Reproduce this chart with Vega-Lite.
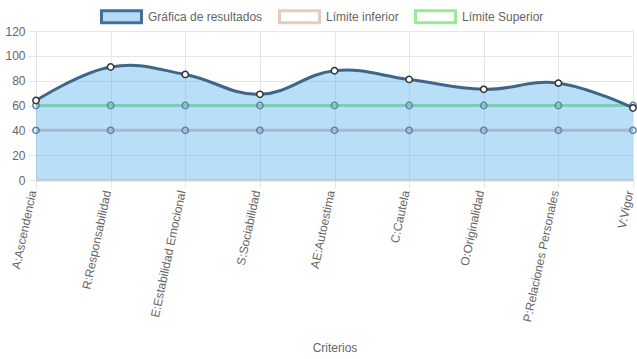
{
  "$schema": "https://vega.github.io/schema/vega-lite/v6.json",
  "width": 597,
  "height": 149,
  "autosize": "none",
  "padding": {"left": 36, "top": 31, "right": 4, "bottom": 179},
  "background": "#ffffff",
  "config": {
    "view": {"stroke": null},
    "font": "Liberation Sans",
    "axis": {
      "labelFont": "Liberation Sans",
      "labelFontSize": 12,
      "labelColor": "#666666",
      "titleFont": "Liberation Sans",
      "titleFontSize": 12,
      "titleColor": "#666666",
      "titleFontWeight": "normal",
      "gridColor": "#e6e6e6",
      "tickColor": "#e6e6e6",
      "domainColor": "#e0e0e0",
      "tickSize": 8
    }
  },
  "data": {
    "values": [
      {"criterio": "A:Ascendencia", "serie": "Gráfica de resultados", "valor": 64},
      {"criterio": "R:Responsabilidad", "serie": "Gráfica de resultados", "valor": 91},
      {"criterio": "E:Estabilidad Emocional", "serie": "Gráfica de resultados", "valor": 85},
      {"criterio": "S:Sociabilidad", "serie": "Gráfica de resultados", "valor": 69},
      {"criterio": "AE:Autoestima", "serie": "Gráfica de resultados", "valor": 88},
      {"criterio": "C:Cautela", "serie": "Gráfica de resultados", "valor": 81},
      {"criterio": "O:Originalidad", "serie": "Gráfica de resultados", "valor": 73},
      {"criterio": "P:Relaciones Personales", "serie": "Gráfica de resultados", "valor": 78},
      {"criterio": "V:Vigor", "serie": "Gráfica de resultados", "valor": 58},
      {"criterio": "A:Ascendencia", "serie": "Límite inferior", "valor": 40},
      {"criterio": "R:Responsabilidad", "serie": "Límite inferior", "valor": 40},
      {"criterio": "E:Estabilidad Emocional", "serie": "Límite inferior", "valor": 40},
      {"criterio": "S:Sociabilidad", "serie": "Límite inferior", "valor": 40},
      {"criterio": "AE:Autoestima", "serie": "Límite inferior", "valor": 40},
      {"criterio": "C:Cautela", "serie": "Límite inferior", "valor": 40},
      {"criterio": "O:Originalidad", "serie": "Límite inferior", "valor": 40},
      {"criterio": "P:Relaciones Personales", "serie": "Límite inferior", "valor": 40},
      {"criterio": "V:Vigor", "serie": "Límite inferior", "valor": 40},
      {"criterio": "A:Ascendencia", "serie": "Límite Superior", "valor": 60},
      {"criterio": "R:Responsabilidad", "serie": "Límite Superior", "valor": 60},
      {"criterio": "E:Estabilidad Emocional", "serie": "Límite Superior", "valor": 60},
      {"criterio": "S:Sociabilidad", "serie": "Límite Superior", "valor": 60},
      {"criterio": "AE:Autoestima", "serie": "Límite Superior", "valor": 60},
      {"criterio": "C:Cautela", "serie": "Límite Superior", "valor": 60},
      {"criterio": "O:Originalidad", "serie": "Límite Superior", "valor": 60},
      {"criterio": "P:Relaciones Personales", "serie": "Límite Superior", "valor": 60},
      {"criterio": "V:Vigor", "serie": "Límite Superior", "valor": 60}
    ]
  },
  "encoding": {
    "x": {
      "field": "criterio",
      "type": "nominal",
      "sort": null,
      "scale": {"type": "point", "padding": 0},
      "axis": {
        "title": "Criterios",
        "labelAngle": -78,
        "labelAlign": "right",
        "labelBaseline": "alphabetic",
        "labelPadding": 3,
        "titleY": 167,
        "titleBaseline": "middle",
        "grid": true,
        "domainColor": "#d0d0d0",
        "domainWidth": 2
      }
    },
    "y": {
      "field": "valor",
      "type": "quantitative",
      "scale": {"domain": [0, 120], "nice": false},
      "axis": {"title": null, "values": [0, 20, 40, 60, 80, 100, 120], "labelPadding": 3}
    }
  },
  "layer": [
    {
      "transform": [{"filter": "datum.serie === 'Gráfica de resultados'"}],
      "mark": {"type": "area", "interpolate": "cardinal", "tension": -0.2, "fill": "#36a2eb", "fillOpacity": 0.35}
    },
    {
      "transform": [{"filter": "datum.serie !== 'Gráfica de resultados'"}],
      "mark": {"type": "line", "strokeWidth": 3},
      "encoding": {
        "detail": {"field": "serie", "type": "nominal"},
        "stroke": {"condition": {"test": "datum.serie === 'Límite inferior'", "value": "#a9b7cb"}, "value": "#7fcbb8"}
      }
    },
    {
      "transform": [{"filter": "datum.serie !== 'Gráfica de resultados'"}],
      "mark": {"type": "point", "filled": false, "size": 40, "strokeWidth": 1.5, "stroke": "#5e82a8", "opacity": 1}
    },
    {
      "transform": [{"filter": "datum.serie === 'Gráfica de resultados'"}],
      "mark": {"type": "line", "strokeWidth": 3, "interpolate": "cardinal", "tension": -0.2, "stroke": "#3f6688"}
    },
    {
      "transform": [{"filter": "datum.serie === 'Gráfica de resultados'"}],
      "mark": {"type": "point", "filled": true, "fill": "#ffffff", "size": 40, "strokeWidth": 1.5, "stroke": "#333333", "opacity": 1}
    },
    {
      "mark": {"type": "point", "filled": true, "opacity": 0, "size": 40},
      "encoding": {
        "stroke": {
          "field": "serie",
          "type": "nominal",
          "scale": {"domain": ["Gráfica de resultados", "Límite inferior", "Límite Superior"], "range": ["#42709a", "#e6cbbf", "#9be89b"]},
          "legend": {
            "orient": "none",
            "legendX": 64,
            "legendY": -36,
            "direction": "horizontal",
            "title": null,
            "padding": 0,
            "symbolType": "M-1,-0.3H1V0.3H-1Z",
            "symbolSize": 1600,
            "symbolStrokeWidth": 3,
            "symbolOpacity": 1,
            "labelFont": "Liberation Sans",
            "labelFontSize": 12,
            "labelColor": "#666666",
            "labelOffset": 5,
            "columnPadding": 10,
            "encode": {"symbols": {"update": {"opacity": {"value": 1}}}}
          }
        },
        "fill": {
          "field": "serie",
          "type": "nominal",
          "scale": {"domain": ["Gráfica de resultados", "Límite inferior", "Límite Superior"], "range": ["#b8d9f5", "#ffffff", "#ffffff"]},
          "legend": {
            "orient": "none",
            "legendX": 64,
            "legendY": -36,
            "direction": "horizontal",
            "title": null,
            "padding": 0,
            "symbolType": "M-1,-0.3H1V0.3H-1Z",
            "symbolSize": 1600,
            "symbolStrokeWidth": 3,
            "symbolOpacity": 1,
            "labelFont": "Liberation Sans",
            "labelFontSize": 12,
            "labelColor": "#666666",
            "labelOffset": 5,
            "columnPadding": 10,
            "encode": {"symbols": {"update": {"opacity": {"value": 1}}}}
          }
        }
      }
    }
  ]
}
